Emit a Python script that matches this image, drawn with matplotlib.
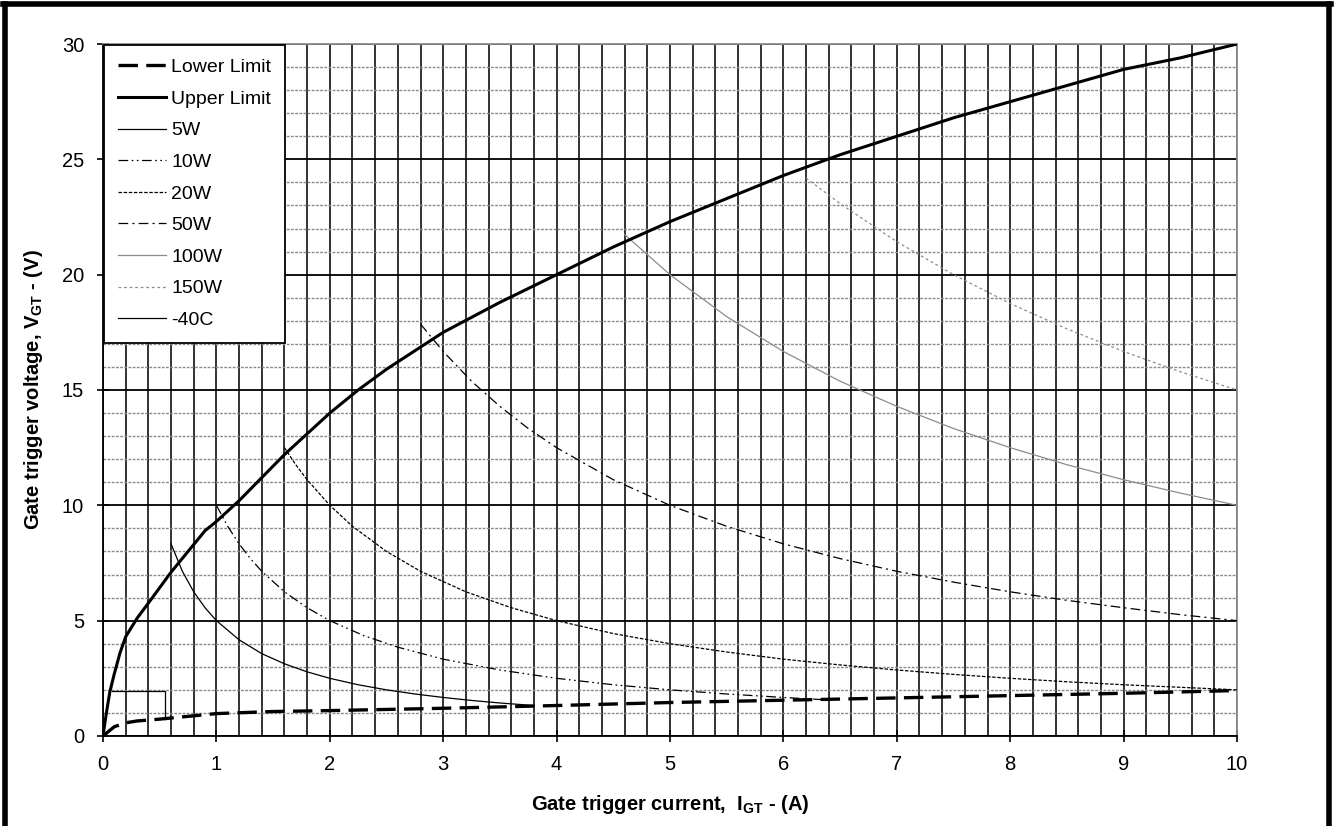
import matplotlib
matplotlib.use("Agg")
import matplotlib.pyplot as plt
from matplotlib.ticker import MultipleLocator
from matplotlib.lines import Line2D

plt.rcParams['font.family'] = ['Liberation Sans', 'DejaVu Sans']
plt.rcParams['mathtext.fontset'] = 'custom'
plt.rcParams['mathtext.rm'] = 'Liberation Sans'
plt.rcParams['mathtext.bf'] = 'Liberation Sans:bold'
plt.rcParams['lines.scale_dashes'] = False

# limit curves
lower_i = [0, 0.05, 0.1, 0.2, 0.3, 0.5, 0.75, 1.0, 1.5, 2, 3, 4, 5, 6, 7, 8, 9, 10]
lower_v = [0, 0.2, 0.4, 0.57, 0.65, 0.73, 0.85, 0.97, 1.06, 1.1, 1.2, 1.32, 1.45, 1.55, 1.65, 1.75, 1.85, 1.97]
upper_i = [0, 0.03, 0.06, 0.1, 0.15, 0.2, 0.3, 0.4, 0.6, 0.8, 0.9, 1.0, 1.2, 1.4, 1.6, 1.8, 2, 2.25, 2.5, 2.75,
           3, 3.5, 4, 4.5, 5, 5.5, 6, 6.5, 7, 7.5, 8, 8.5, 9, 9.5, 10]
upper_v = [0, 1.0, 1.9, 2.7, 3.6, 4.3, 5.1, 5.76, 7.1, 8.3, 8.9, 9.3, 10.2, 11.2, 12.2, 13.1, 14.0, 15.0, 15.9, 16.7,
           17.5, 18.8, 20.0, 21.2, 22.3, 23.3, 24.3, 25.2, 26.0, 26.8, 27.5, 28.2, 28.9, 29.4, 30.0]

# power curves
w5_i = [0.6, 0.7, 0.8, 0.9, 1.0, 1.2, 1.4, 1.6, 1.8, 2, 2.25, 2.5, 2.75, 3, 3.25, 3.5, 3.8]
w5_v = [8.33, 7.14, 6.25, 5.56, 5.0, 4.17, 3.57, 3.13, 2.78, 2.5, 2.22, 2.0, 1.82, 1.67, 1.54, 1.43, 1.32]
w10_i = [1.0, 1.1, 1.2, 1.3, 1.4, 1.6, 1.8, 2, 2.3, 2.6, 3, 3.5, 4, 4.5, 5, 5.5, 6, 6.4]
w10_v = [10, 9.09, 8.33, 7.69, 7.14, 6.25, 5.56, 5, 4.35, 3.85, 3.33, 2.86, 2.5, 2.22, 2.0, 1.82, 1.67, 1.56]
w20_i = [1.6, 1.7, 1.8, 2, 2.2, 2.5, 2.8, 3.2, 3.6, 4, 4.5, 5, 5.5, 6, 6.5, 7, 7.5, 8, 8.5, 9, 9.5, 10]
w20_v = [12.5, 11.76, 11.11, 10, 9.09, 8, 7.14, 6.25, 5.56, 5, 4.44, 4, 3.64, 3.33, 3.08, 2.86, 2.67, 2.5, 2.35, 2.22, 2.11, 2.0]
w50_i = [2.8, 3, 3.25, 3.5, 3.75, 4, 4.5, 5, 5.5, 6, 6.5, 7, 7.5, 8, 8.5, 9, 9.5, 10]
w50_v = [17.86, 16.67, 15.38, 14.29, 13.33, 12.5, 11.11, 10, 9.09, 8.33, 7.69, 7.14, 6.67, 6.25, 5.88, 5.56, 5.26, 5.0]
w100_i = [4.6, 5, 5.5, 6, 6.5, 7, 7.5, 8, 8.5, 9, 9.5, 10]
w100_v = [21.74, 20, 18.18, 16.67, 15.38, 14.29, 13.33, 12.5, 11.76, 11.11, 10.53, 10]
w150_i = [6.2, 6.5, 7, 7.5, 8, 8.5, 9, 9.5, 10]
w150_v = [24.19, 23.08, 21.43, 20, 18.75, 17.65, 16.67, 15.79, 15]
c40_i = [0.08, 0.55, 0.55]
c40_v = [1.95, 1.95, 0.74]

fig = plt.figure(figsize=(13.34, 8.26), dpi=100)
ax = fig.add_axes([0.0772, 0.109, 0.8501, 0.8377])

ax.plot(lower_i, lower_v, color='black', lw=2.4, dashes=(14, 6), label='Lower Limit', zorder=5)
ax.plot(upper_i, upper_v, color='black', lw=2.2, label='Upper Limit', zorder=5)
ax.plot(w5_i, w5_v, color='black', lw=0.9, label='5W', zorder=4)
ax.plot(w10_i, w10_v, color='black', lw=0.9, dashes=(7, 2.5, 1.2, 2.5, 1.2, 2.5), label='10W', zorder=4)
ax.plot(w20_i, w20_v, color='black', lw=0.9, dashes=(2.5, 1.2), label='20W', zorder=4)
ax.plot(w50_i, w50_v, color='black', lw=0.9, dashes=(7, 3, 1.5, 3), label='50W', zorder=4)
ax.plot(w100_i, w100_v, color='#8c8c8c', lw=0.9, label='100W', zorder=4)
ax.plot(w150_i, w150_v, color='#8c8c8c', lw=0.9, dashes=(2, 2), label='150W', zorder=4)
ax.plot(c40_i, c40_v, color='black', lw=0.9, label='-40C', zorder=4)

ax.set_xlim(0, 10)
ax.set_ylim(0, 30)
ax.xaxis.set_major_locator(MultipleLocator(1))
ax.xaxis.set_minor_locator(MultipleLocator(0.2))
ax.yaxis.set_major_locator(MultipleLocator(5))
ax.yaxis.set_minor_locator(MultipleLocator(1))
ax.set_axisbelow(True)
ax.grid(which='minor', axis='x', color='#222222', lw=1.3)
ax.grid(which='major', axis='x', color='#222222', lw=1.3)
ax.grid(which='minor', axis='y', color='#8a8a8a', lw=1.0, linestyle=(0, (2, 1)))
ax.grid(which='major', axis='y', color='black', lw=1.3)
ax.tick_params(which='minor', length=0)
ax.tick_params(which='major', direction='inout', length=9, width=1.2, labelsize=14.5, pad=9)

for s in ['left', 'bottom']:
    ax.spines[s].set_color('black')
    ax.spines[s].set_linewidth(1.3)
for s in ['top', 'right']:
    ax.spines[s].set_color('#8a8a8a')
    ax.spines[s].set_linewidth(1.3)

ax.set_xlabel(r'Gate trigger current,  I$_{\mathbf{GT}}$ - (A)', fontsize=14.5, fontweight='bold', labelpad=14)
ax.set_ylabel(r'Gate trigger voltage, V$_{\mathbf{GT}}$ - (V)', fontsize=14.5, fontweight='bold', labelpad=12)

leg = ax.legend(loc='upper left', bbox_to_anchor=(0, 1), borderaxespad=0.05, fancybox=False,
                edgecolor='black', framealpha=1, fontsize=14, handlelength=2.5,
                handletextpad=0.26, labelspacing=0.72, borderpad=0.7)
leg.get_frame().set_linewidth(1.3)
leg.set_zorder(10)

# outer frame of the figure
fig.add_artist(Line2D([0.004, 0.004], [0, 0.995], transform=fig.transFigure, color='black', lw=4))
fig.add_artist(Line2D([0.002, 0.998], [0.995, 0.995], transform=fig.transFigure, color='black', lw=4))
fig.add_artist(Line2D([0.996, 0.996], [0, 0.995], transform=fig.transFigure, color='black', lw=4))

fig.savefig('out.png', dpi=100)
